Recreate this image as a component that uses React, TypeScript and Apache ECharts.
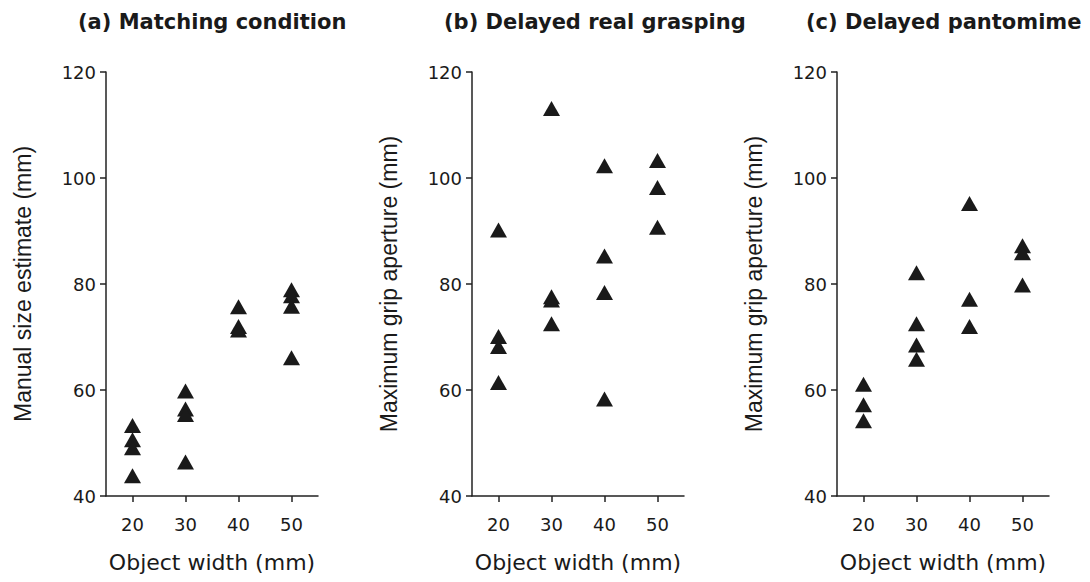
import React, { useEffect, useRef } from "react";
import * as echarts from "echarts";

const panelTitles = ["(a) Matching condition", "(b) Delayed real grasping", "(c) Delayed pantomime"];
const yAxisNames = ["Manual size estimate (mm)", "Maximum grip aperture (mm)", "Maximum grip aperture (mm)"];
const xAxisName = "Object width (mm)";
const xTicks = [20, 30, 40, 50];
const yTicks = [40, 60, 80, 100, 120];

const matchingData: [number, number][] = [
  [20, 53.3], [20, 50.6], [20, 49.1], [20, 43.8],
  [30, 59.8], [30, 56.4], [30, 55.4], [30, 46.4],
  [40, 75.7], [40, 72.0], [40, 71.3],
  [50, 78.9], [50, 77.8], [50, 75.8], [50, 66.1],
];
const realGraspData: [number, number][] = [
  [20, 90.2], [20, 70.1], [20, 68.2], [20, 61.4],
  [30, 113.1], [30, 77.6], [30, 77.0], [30, 72.5],
  [40, 102.3], [40, 85.3], [40, 78.4], [40, 58.3],
  [50, 103.3], [50, 98.2], [50, 90.7],
];
const pantomimeData: [number, number][] = [
  [20, 61.1], [20, 57.2], [20, 54.2],
  [30, 82.1], [30, 72.5], [30, 68.5], [30, 65.8],
  [40, 95.2], [40, 77.1], [40, 72.0],
  [50, 87.2], [50, 85.9], [50, 79.8],
];

const gridLefts = [106, 472, 837];
const titleLefts = [78, 444, 806];

export default function App() {
  const ref = useRef<HTMLDivElement>(null);
  useEffect(() => {
    if (!ref.current) return;
    const chart = echarts.init(ref.current, null, { renderer: "svg" });
    const datasets = [matchingData, realGraspData, pantomimeData];
    const axisColor = "#222";
    const wideFont = "DejaVu Sans, Verdana, sans-serif";
    const font = "Liberation Sans, Arial, Helvetica, sans-serif";
    chart.setOption({
      animation: false,
      backgroundColor: "#fff",
      title: panelTitles.map((t, i) => ({
        text: t,
        left: titleLefts[i],
        top: 11,
        padding: 0,
        textStyle: { fontFamily: wideFont, fontWeight: "bold", fontSize: 21, color: "#1a1a1a" },
      })),
      grid: gridLefts.map((l) => ({ left: l, top: 72, width: 212, height: 424 })),
      xAxis: gridLefts.map((_, i) => ({
        type: "value",
        gridIndex: i,
        min: 15,
        max: 55,
        interval: 5,
        name: xAxisName,
        nameLocation: "middle",
        nameGap: 55,
        nameTextStyle: { fontFamily: wideFont, fontSize: 22, color: "#1a1a1a" },
        axisLine: { show: true, lineStyle: { color: axisColor, width: 1.5 } },
        axisTick: {
          show: true,
          inside: false,
          length: 6,
          lineStyle: { color: axisColor, width: 1.5 },
          customValues: xTicks,
        },
        axisLabel: {
          customValues: xTicks,
          margin: 19,
          fontFamily: wideFont,
          fontSize: 18,
          color: "#1a1a1a",
        },
        splitLine: { show: false },
      })),
      yAxis: gridLefts.map((_, i) => ({
        type: "value",
        gridIndex: i,
        min: 40,
        max: 120,
        interval: 20,
        name: yAxisNames[i],
        nameLocation: "middle",
        nameGap: 72,
        nameTextStyle: { fontFamily: font, fontSize: 23, color: "#1a1a1a" },
        axisLine: { show: true, lineStyle: { color: axisColor, width: 1.5 } },
        axisTick: { show: true, inside: false, length: 6, lineStyle: { color: axisColor, width: 1.5 } },
        axisLabel: {
          margin: 10,
          fontFamily: wideFont,
          fontSize: 18,
          color: "#1a1a1a",
          formatter: (v: number) => (yTicks.includes(v) ? String(v) : ""),
        },
        splitLine: { show: false },
      })),
      series: datasets.map((d, i) => ({
        type: "scatter",
        xAxisIndex: i,
        yAxisIndex: i,
        data: d,
        symbol: "triangle",
        symbolSize: [17, 15],
        itemStyle: { color: "#1a1a1a", opacity: 1 },
      })),
    });
    return () => chart.dispose();
  }, []);
  return (
    <div
      ref={ref}
      style={{ position: "fixed", left: 0, top: 0, width: 1090, height: 582, background: "#fff" }}
    />
  );
}
